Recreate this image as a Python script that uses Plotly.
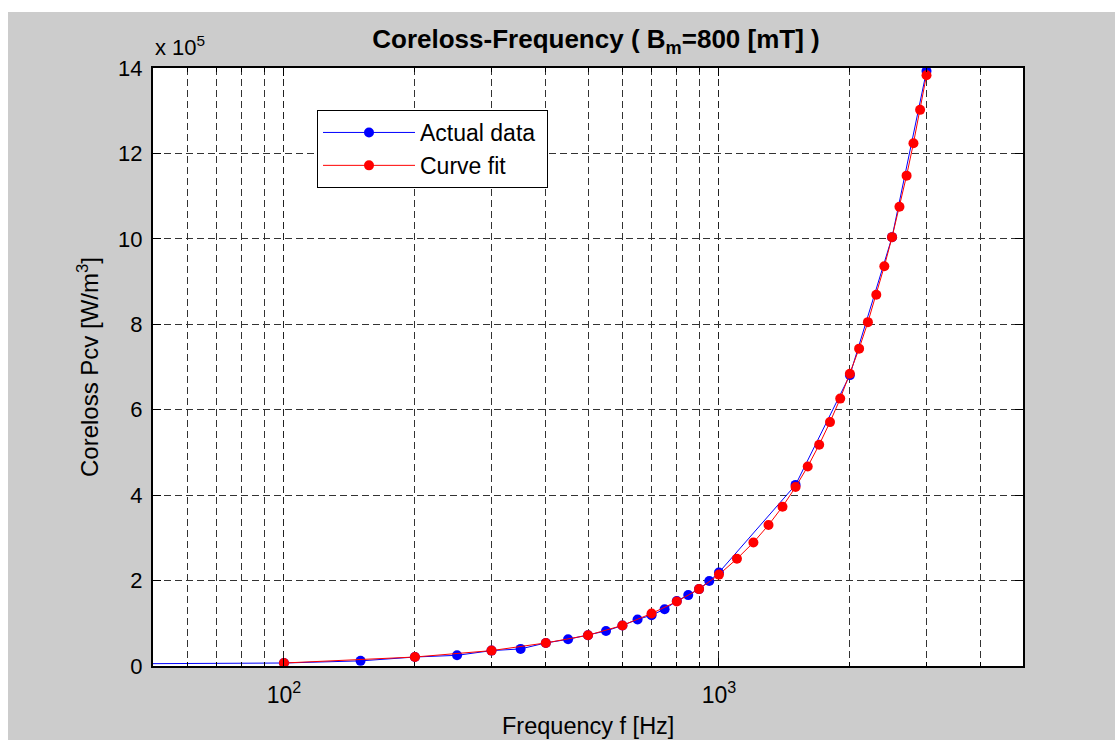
import plotly.graph_objects as go

# ---- data (Pcv in units of 1e5 W/m^3) ----
freq_actual = [20, 100, 150, 200, 250, 300, 350, 400, 450, 500, 550, 600, 650, 700,
               750, 800, 850, 900, 950, 1000, 1500, 2000, 2500, 3000]
pcv_actual = [0.035, 0.07, 0.12, 0.21, 0.25, 0.36, 0.40, 0.54, 0.625, 0.72, 0.82, 0.95,
              1.09, 1.19, 1.33, 1.52, 1.66, 1.80, 1.99, 2.19, 4.24, 6.81, 10.04, 13.93]

freq_fit = [100, 200, 300, 400, 500, 600, 700, 800, 900, 1000,
            1100, 1200, 1300, 1400, 1500, 1600, 1700, 1800, 1900, 2000,
            2100, 2200, 2300, 2400, 2500, 2600, 2700, 2800, 2900, 3000]
pcv_fit = [0.07, 0.21, 0.36, 0.54, 0.72, 0.95, 1.23, 1.51, 1.80, 2.14,
           2.51, 2.89, 3.30, 3.73, 4.19, 4.67, 5.18, 5.71, 6.26, 6.84,
           7.43, 8.05, 8.69, 9.36, 10.04, 10.75, 11.48, 12.24, 13.02, 13.83]

x_major_ticks = [100, 1000]
x_major_text = ["10<sup>2</sup>", "10<sup>3</sup>"]
x_minor_ticks = [60, 70, 80, 90, 200, 300, 400, 500, 600, 700, 800, 900, 2000, 3000, 4000]
y_ticks = [0, 2, 4, 6, 8, 10, 12, 14]

FONT = "Liberation Sans, Arial, sans-serif"

fig = go.Figure()
fig.add_trace(go.Scatter(
    x=freq_actual, y=pcv_actual, name="Actual data\u00a0", mode="lines+markers",
    line=dict(color="#0000FF", width=1), marker=dict(color="#0000FF", size=10),
    legendgroup="a"))
fig.add_trace(go.Scatter(
    x=freq_fit, y=pcv_fit, name="Curve fit", mode="lines+markers",
    line=dict(color="#FF0000", width=1), marker=dict(color="#FF0000", size=10),
    legendgroup="b"))

grid_dash = "7px,4px"
fig.update_xaxes(
    type="log", range=[1.69897, 3.69897],
    tickmode="array", tickvals=x_major_ticks, ticktext=x_major_text,
    ticks="inside", ticklen=8, tickwidth=1, tickcolor="black",
    showgrid=True, gridcolor="#222222", gridwidth=1, griddash=grid_dash,
    minor=dict(tickmode="array", tickvals=x_minor_ticks, ticks="inside", ticklen=4,
               tickcolor="black", showgrid=True, gridcolor="#333333", gridwidth=1,
               griddash=grid_dash),
    showline=True, linecolor="black", linewidth=2, mirror="allticks",
    zeroline=False, tickfont=dict(family=FONT, size=23, color="black"),
    ticklabelstandoff=7,
)
fig.update_yaxes(
    range=[0, 14], tickmode="array", tickvals=y_ticks,
    ticks="inside", ticklen=8, tickwidth=1, tickcolor="black",
    showgrid=True, gridcolor="#333333", gridwidth=1, griddash=grid_dash,
    showline=True, linecolor="black", linewidth=2, mirror="allticks",
    zeroline=False, tickfont=dict(family=FONT, size=22, color="black"),
    ticklabelstandoff=4,
)

fig.update_layout(
    width=1115, height=740,
    margin=dict(l=153, r=92, t=68, b=74, autoexpand=False),
    paper_bgcolor="#CCCCCC", plot_bgcolor="white",
    font=dict(family=FONT, size=22, color="black"),
    title=dict(text="<b>Coreloss-Frequency ( B<sub>m</sub>=800 [mT] )</b>",
               x=596/1115, xanchor="center", xref="container",
               y=1-39/740, yanchor="middle", yref="container",
               font=dict(family=FONT, size=26, color="black")),
    legend=dict(x=(317-153)/870, y=(666-110)/598, xanchor="left", yanchor="top",
                bgcolor="white", bordercolor="black", borderwidth=1,
                font=dict(family=FONT, size=23, color="black"),
                itemwidth=92, tracegroupgap=0),
    showlegend=True,
    shapes=[
        dict(type="rect", xref="paper", yref="paper", x0=-0.3, x1=1.3,
             y0=(666-12)/598, y1=1.3, fillcolor="white", line=dict(width=0), layer="below"),
        dict(type="rect", xref="paper", yref="paper", x0=-0.3, x1=(8-153)/870,
             y0=-0.3, y1=1.3, fillcolor="white", line=dict(width=0), layer="below"),
    ],
    annotations=[
        dict(text="x 10<sup>5</sup>", xref="paper", yref="paper", x=0, y=1,
             xanchor="left", yanchor="bottom", yshift=6, showarrow=False,
             font=dict(family=FONT, size=22, color="black")),
        dict(text="Coreloss Pcv [W/m<sup>3</sup>]", xref="paper", yref="paper",
             x=(88-153)/870, y=0.5, xanchor="center", yanchor="middle",
             textangle=-90, showarrow=False,
             font=dict(family=FONT, size=24, color="black")),
        dict(text="Frequency f [Hz]", xref="paper", yref="paper",
             x=0.5, y=(666-726)/598, xanchor="center", yanchor="middle",
             showarrow=False, font=dict(family=FONT, size=23.5, color="black")),
    ],
)

fig.write_html("out.html")
